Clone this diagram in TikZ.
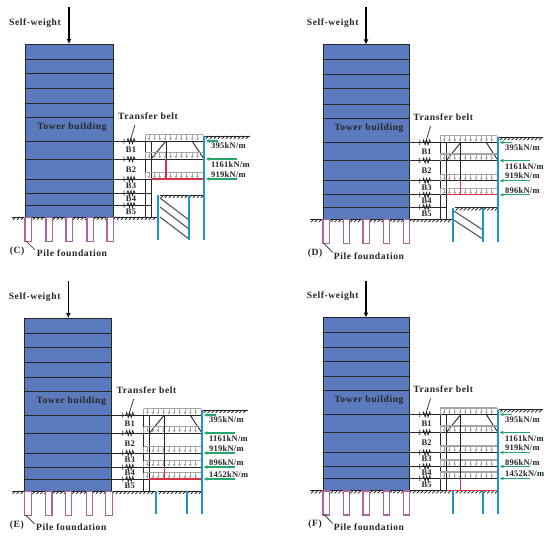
\documentclass[tikz,border=0pt]{standalone}
\usepackage{fontspec}
\setmainfont{Liberation Serif}
\newfontfamily\biglblfont[LetterSpace=6]{Liberation Serif}
\newfontfamily\lblfont[LetterSpace=3]{Liberation Serif}
\usetikzlibrary{arrows.meta}
\definecolor{towerblue}{RGB}{92,122,190}
\definecolor{wallblue}{RGB}{30,150,205}
\definecolor{pilepink}{RGB}{170,100,160}
\definecolor{supgreen}{RGB}{40,165,105}
\definecolor{strutred}{RGB}{215,50,70}
\definecolor{bandgray}{RGB}{165,165,165}
\tikzset{
  lbl/.style={font=\lblfont\bfseries\fontsize{8.5}{9}\selectfont,text=black!85,inner sep=0pt},
  biglbl/.style={lbl,font=\biglblfont\bfseries\fontsize{9.6}{10}\selectfont},
  towerbox/.style={fill=towerblue,draw=black!85,line width=.9pt},
  floorline/.style={draw=black!85,line width=.9pt},
  wall/.style={draw=wallblue,line width=2.1pt},
  pile/.style={draw=pilepink,line width=1.1pt,fill=white},
  strut/.style={draw=black!85,line width=.9pt},
  redstrut/.style={draw=strutred,line width=1.1pt},
  support/.style={draw=supgreen,line width=1.1pt,-{Latex[length=4pt,width=4pt]}},
  loadband/.style={draw=bandgray,line width=.8pt},
  loadarrow/.style={draw=bandgray,line width=.7pt,-{Latex[length=2.6pt,width=3pt]}},
  groundline/.style={draw=black!85,line width=.8pt},
  weight/.style={draw=black,line width=1.5pt,-{Latex[length=5pt,width=5pt]}},
}
% ground with short slashes
\newcommand{\gnd}[3]{%
  \draw[groundline] (#1,#3) -- (#2,#3);
  \pgfmathsetmacro{\gsa}{#1+4}
  \pgfmathsetmacro{\gsb}{#1+8}
  \foreach \hx in {\gsa,\gsb,...,#2}
    \draw[groundline] (\hx,#3) -- ++(-3.2,2.8);
}
\newcommand{\band}[1]{%
  \draw[loadband] (145,#1) ++(0,-6.5) -- ++(0,6.5) (203,#1) ++(0,-6.5) -- ++(0,6.5);
  \draw[bandgray,line width=1.3pt] (145,#1) ++(0,-6.5) -- ++(58,0);
  \foreach \ax in {149,154.4,...,201}
    \draw[loadarrow] (\ax,#1) ++(0,-6) -- ++(0,5.6);
}
\newcommand{\spring}[1]{%
  \draw[floorline] (113,#1) -- (151,#1);
  \draw[black!85,line width=.8pt] (124,#1) ++(0,-2.5) -- ++(0,5)
    (127,#1) -- ++(1,-2.4) -- ++(1.5,4.8) -- ++(1.5,-4.8) -- ++(1.5,4.8) -- ++(1.5,-4.8) -- ++(1,2.4);
}
\newcommand{\support}[2]{\draw[support] (#2,#1) -- (205.5,#1);}
% #1 x origin  #2 y origin  #3 xscale  #4 yscale  #5 panel label  #6 specific drawing
\newcommand{\panel}[6]{%
\begin{scope}[shift={(#1,#2)},xscale=#3,yscale=#4]
  \path[towerbox] (25,44) rectangle (113,217);
  \foreach \fy in {59,73.5,88,103,117,141,159,179,193,205}
    \draw[floorline] (25,\fy) -- (113,\fy);
  \gnd{12}{158}{217}
  \foreach \px in {25,46,66,87,107}
    \draw[pile] (\px,217.5) rectangle ++(6.5,24);
  \node[biglbl] (sw#5) at (35,23) {Self-weight};
  \coordinate (st#5) at (69,7);
  \coordinate (tt#5) at (69,44);
  \draw[weight] (st#5) -- (tt#5);
  \node[biglbl] (tb#5) at (72,127) {Tower building};
  \node[biglbl] (tr#5) at (148,116) {Transfer belt};
  \draw[black!85,line width=.7pt] (130,141) -- (135,125);
  \node[lbl] (b1#5) at (131,150) {B1};
  \node[lbl] (b2#5) at (131,169.5) {B2};
  \node[lbl] (b3#5) at (131,185.5) {B3};
  \node[lbl] (b4#5) at (131,199) {B4};
  \node[lbl] (b5#5) at (131,211.5) {B5};
  \spring{141}\spring{159}\spring{179}\spring{193}\spring{205}
  \draw[strut] (113,141) -- (204,141);
  \draw[strut] (145,141) -- (145,217) (151,141) -- (151,217);
  \draw[strut] (151,159) -- (166,141) (192,141) -- (204,159);
  \draw[strut] (151,159) -- (204,159);
  \node[biglbl] (pf#5) at (72,253.5) {Pile foundation};
  \node[biglbl] (pn#5) at (17,251) {(#5)};
  \draw[black!85,line width=.7pt] (26,241) -- (35,250);
  \gnd{205}{250}{136}
  \band{141}\band{159}
  \support{141}{218}
  \support{159}{237}
  #6
\end{scope}}
\begin{document}
\begin{tikzpicture}[x=1pt,y=-1pt]
\useasboundingbox (0,0) rectangle (550,538);
\fill[white] (0,0) rectangle (550,538);
% (C)
\panel{0}{0}{1}{1}{C}{%
  \band{179}
  \draw[strut] (166,141) -- (166,159);
  \draw[redstrut] (166,159) -- (166,179) (151,179) -- (204,179);
  \support{179}{237}
  \gnd{160}{204}{195}
  \foreach \dy in {0,9,19}
    \draw[black!65,line width=1.1pt] (160,198+\dy) -- (189,220+\dy);
  \draw[wall] (158,195) -- (158,240) (189,195) -- (189,240) (204,136) -- (204,240);
  \node[lbl,anchor=west] (v1C) at (211,146) {395kN/m};
  \node[lbl,anchor=west] (v2C) at (211,165) {1161kN/m};
  \node[lbl,anchor=west] (v3C) at (211,174.5) {919kN/m};
}
% (D)
\panel{298.5}{0}{.978}{1.01}{D}{%
  \band{179}\band{193}
  \draw[strut] (166,141) -- (166,179) (151,179) -- (204,179);
  \draw[redstrut] (166,179) -- (166,193) (151,193) -- (204,193);
  \support{179}{237}\support{193}{237}
  \gnd{160}{204}{205.5}
  \draw[black!65,line width=1.1pt] (159,209) -- (189,228);
  \draw[black!65,line width=1.1pt] (159,218) -- (189,237);
  \draw[wall] (158,205.5) -- (158,240) (189,205.5) -- (189,240) (204,136) -- (204,240);
  \node[lbl,anchor=west] (v1D) at (211,146) {395kN/m};
  \node[lbl,anchor=west] (v2D) at (211,165) {1161kN/m};
  \node[lbl,anchor=west] (v3D) at (211,174) {919kN/m};
  \node[lbl,anchor=west] (v4D) at (211,189) {896kN/m};
}
% (E)
\panel{0}{274}{.99}{1}{E}{%
  \band{179}\band{193}\band{205}
  \draw[strut] (166,141) -- (166,193) (151,179) -- (204,179) (151,193) -- (204,193);
  \draw[redstrut] (166,193) -- (166,205) (151,205) -- (204,205);
  \support{179}{237}\support{193}{237}\support{205}{237}
  \gnd{160}{204}{217}
  \draw[wall] (158,217) -- (158,240) (189,217) -- (189,240) (204,136) -- (204,240);
  \node[lbl,anchor=west] (v1E) at (211,146) {395kN/m};
  \node[lbl,anchor=west] (v2E) at (211,165) {1161kN/m};
  \node[lbl,anchor=west] (v3E) at (211,174.5) {919kN/m};
  \node[lbl,anchor=west] (v4E) at (211,189) {896kN/m};
  \node[lbl,anchor=west] (v5E) at (211,200.5) {1452kN/m};
}
% (F)
\panel{298.5}{273.5}{.978}{1}{F}{%
  \band{179}\band{193}\band{205}
  \draw[strut] (166,141) -- (166,205) (151,179) -- (204,179) (151,193) -- (204,193) (151,205) -- (204,205);
  \gnd{160}{204}{217}
  \draw[redstrut] (166,205) -- (166,217) (151,217) -- (204,217);
  \support{179}{237}\support{193}{237}\support{205}{237}
  \draw[wall] (158,217) -- (158,240) (189,217) -- (189,240) (204,136) -- (204,240);
  \node[lbl,anchor=west] (v1F) at (211,146) {395kN/m};
  \node[lbl,anchor=west] (v2F) at (211,165) {1161kN/m};
  \node[lbl,anchor=west] (v3F) at (211,174.5) {919kN/m};
  \node[lbl,anchor=west] (v4F) at (211,189) {896kN/m};
  \node[lbl,anchor=west] (v5F) at (211,200.5) {1452kN/m};
}
\end{tikzpicture}
\end{document}
